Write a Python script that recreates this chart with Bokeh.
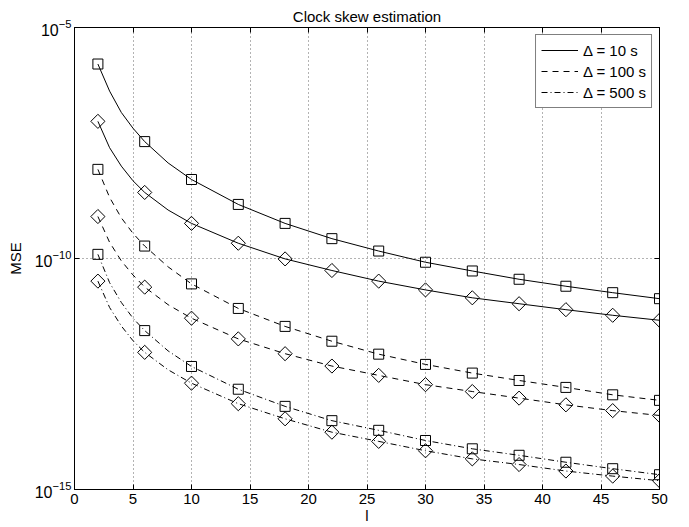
import numpy as np
from bokeh.plotting import figure
from bokeh.models import (Range1d, FixedTicker, LinearAxis, Legend, LegendItem,
                          CustomJSTickFormatter)
from bokeh.embed import file_html
from bokeh.resources import INLINE

# ---- data ----
l_marks = [2, 6, 10, 14, 18, 22, 26, 30, 34, 38, 42, 46, 50]

sq_10 = [1.62e-6, 3.39e-8, 5.13e-9, 1.48e-9, 5.75e-10, 2.69e-10, 1.45e-10, 8.3e-11,
         5.37e-11, 3.55e-11, 2.51e-11, 1.82e-11, 1.35e-11]
di_10 = [9.3e-8, 2.69e-9, 5.75e-10, 2.14e-10, 9.8e-11, 5.5e-11, 3.24e-11, 2.09e-11,
         1.41e-11, 1.05e-11, 7.8e-12, 5.9e-12, 4.6e-12]
sq_100 = [8.5e-9, 1.86e-10, 2.82e-11, 8.3e-12, 3.39e-12, 1.62e-12, 8.5e-13, 5.1e-13,
          3.31e-13, 2.29e-13, 1.62e-13, 1.12e-13, 8.5e-14]
di_100 = [8.1e-10, 2.4e-11, 5.1e-12, 1.82e-12, 8.7e-13, 4.7e-13, 2.95e-13, 1.86e-13,
          1.32e-13, 9.5e-14, 6.8e-14, 5.1e-14, 4.0e-14]
sq_500 = [1.23e-10, 2.75e-12, 4.6e-13, 1.48e-13, 6.3e-14, 3.09e-14, 1.91e-14, 1.15e-14,
          7.6e-15, 5.5e-15, 3.89e-15, 2.82e-15, 2.09e-15]
di_500 = [3.24e-11, 9.3e-13, 2.0e-13, 7.2e-14, 3.39e-14, 1.74e-14, 1.1e-14, 6.9e-15,
          4.6e-15, 3.47e-15, 2.51e-15, 1.95e-15, 1.55e-15]

# extra points read along the curves between markers (l = 3, 4, 5, 8)
l_extra = [3, 4, 5, 8]
sq_10_extra = [4.2e-7, 1.45e-7, 6.6e-8, 1.17e-8]
di_10_extra = [2.5e-8, 1.0e-8, 4.8e-9, 1.12e-9]
sq_100_extra = [2.1e-9, 7.6e-10, 3.5e-10, 6.6e-11]
di_100_extra = [2.24e-10, 8.9e-11, 4.4e-11, 1.0e-11]
sq_500_extra = [3.0e-11, 1.12e-11, 5.1e-12, 1.0e-12]
di_500_extra = [8.7e-12, 3.47e-12, 1.66e-12, 3.9e-13]

legend_labels = ["\u0394 = 10 s", "\u0394 = 100 s", "\u0394 = 500 s"]
x_ticks = [0, 5, 10, 15, 20, 25, 30, 35, 40, 45, 50]
y_ticks = [1e-15, 1e-10, 1e-5]

FONT = "Liberation Sans"
FS = "15px"


def curve(marks, extra):
    pts = sorted(list(zip(l_marks, marks)) + list(zip(l_extra, extra)))
    return [q[0] for q in pts], [q[1] for q in pts]


p = figure(width=689, height=527, y_axis_type="log",
           x_range=Range1d(0, 50), y_range=Range1d(1e-15, 1e-5),
           output_backend="svg", toolbar_location=None,
           min_border_left=74, min_border_right=30, min_border_top=27, min_border_bottom=38)

p.title.text = "Clock skew estimation"
p.title.align = "center"
p.title.text_font = FONT
p.title.text_font_size = FS
p.title.text_font_style = "normal"
p.title.text_color = "black"
p.title.offset = 0
p.title.standoff = 5

p.outline_line_color = "black"
p.outline_line_width = 1
p.background_fill_color = "white"
p.border_fill_color = "white"

for ax in [p.xaxis[0], p.yaxis[0]]:
    ax.major_tick_in = 5
    ax.major_tick_out = 0
    ax.minor_tick_in = 0
    ax.minor_tick_out = 0
    ax.axis_line_color = "black"
    ax.major_tick_line_color = "black"
    ax.major_label_text_font = FONT
    ax.major_label_text_font_size = FS
    ax.major_label_text_color = "black"
    ax.axis_label_text_font = FONT
    ax.axis_label_text_font_size = FS
    ax.axis_label_text_font_style = "normal"
    ax.axis_label_text_color = "black"

p.yaxis[0].major_label_text_font_size = "16px"
p.xaxis[0].ticker = FixedTicker(ticks=x_ticks)
p.yaxis[0].ticker = FixedTicker(ticks=y_ticks)
p.xaxis[0].axis_label = "l"
p.yaxis[0].axis_label = "MSE"
p.xaxis[0].major_label_standoff = 4
p.xaxis[0].axis_label_standoff = 0
p.yaxis[0].major_label_standoff = 3
p.yaxis[0].axis_label_standoff = 8

blank = CustomJSTickFormatter(code="return '';")
top_ax = LinearAxis(ticker=FixedTicker(ticks=x_ticks), formatter=blank,
                    major_tick_in=5, major_tick_out=0, minor_tick_in=0, minor_tick_out=0,
                    major_label_standoff=0, axis_label_standoff=0, axis_line_color="black")
right_ax = LinearAxis(ticker=FixedTicker(ticks=y_ticks), formatter=blank,
                      major_tick_in=5, major_tick_out=0, minor_tick_in=0, minor_tick_out=0,
                      major_label_standoff=0, axis_label_standoff=0, axis_line_color="black")
p.add_layout(top_ax, "above")
p.add_layout(right_ax, "right")

p.xgrid.ticker = FixedTicker(ticks=x_ticks[1:-1])
p.ygrid.ticker = FixedTicker(ticks=[1e-10])
for g in [p.xgrid[0], p.ygrid[0]]:
    g.grid_line_color = "#666666"
    g.grid_line_dash = "1 3"
    g.grid_line_width = 1

series = [
    (sq_10, sq_10_extra, di_10, di_10_extra, "solid"),
    (sq_100, sq_100_extra, di_100, di_100_extra, "6 5"),
    (sq_500, sq_500_extra, di_500, di_500_extra, "6 3 1 3"),
]

items = []
for (sq, sqe, di, die, dash), lab in zip(series, legend_labels):
    xs, ys = curve(sq, sqe)
    r1 = p.line(xs, ys, line_color="black", line_width=1, line_dash=dash)
    xs2, ys2 = curve(di, die)
    p.line(xs2, ys2, line_color="black", line_width=1, line_dash=dash)
    p.scatter(l_marks, sq, marker="square", size=10, fill_alpha=0,
              line_color="black", line_width=1)
    p.scatter(l_marks, di, marker="square", size=10, angle=np.pi / 4, fill_alpha=0,
              line_color="black", line_width=1)
    items.append(LegendItem(label=lab, renderers=[r1]))

legend = Legend(items=items, location="top_right")
legend.margin = 7
legend.padding = 5
legend.spacing = 1
legend.label_height = 20
legend.glyph_height = 20
legend.glyph_width = 37
legend.label_standoff = 5
legend.label_text_font = FONT
legend.label_text_font_size = FS
legend.label_text_color = "black"
legend.border_line_color = "black"
legend.border_line_width = 1
legend.background_fill_alpha = 1
p.add_layout(legend, "center")

open("out.html", "w").write(file_html(p, INLINE))
